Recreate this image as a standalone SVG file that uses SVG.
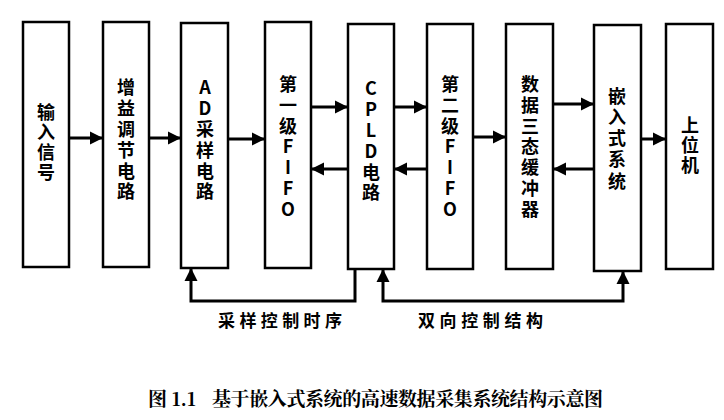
<svg xmlns="http://www.w3.org/2000/svg" width="724" height="420" viewBox="0 0 724 420">
<style>
.box{fill:#fff;stroke:#000;stroke-width:2.5}
.t{font-family:"Noto Sans CJK SC","Liberation Sans",sans-serif;font-size:18px;font-weight:bold;fill:#000;text-anchor:middle;writing-mode:vertical-rl;text-orientation:upright;letter-spacing:2.8px}
.c{stroke:#000;stroke-width:3;fill:none}
.lbl{font-family:"Noto Sans CJK SC",sans-serif;font-size:17px;font-weight:bold;fill:#000}
.cap{font-family:"Noto Serif CJK SC","Noto Sans CJK SC",serif;font-size:19px;font-weight:bold;fill:#000}
</style>
<defs>
<marker id="ah" markerUnits="userSpaceOnUse" markerWidth="15" markerHeight="15" refX="13" refY="7" orient="auto-start-reverse">
<path d="M0,0.5 L13,7 L0,13.5 z" fill="#000"/>
</marker>
</defs>
<rect width="724" height="420" fill="#fff"/>
<g id="n1"><rect class="box" x="23" y="22" width="46" height="245"/>
<text class="t" x="46" y="143" style="letter-spacing:2px">输入信号</text></g>
<g id="n2"><rect class="box" x="103" y="22" width="46" height="245"/>
<text class="t" x="126" y="141">增益调节电路</text></g>
<g id="n3"><rect class="box" x="181" y="23" width="47" height="245"/>
<text class="t" x="205" y="141">AD采样电路</text></g>
<g id="n4"><rect class="box" x="265" y="22" width="46" height="246"/>
<text class="t" x="288" y="148">第一级FIFO</text></g>
<g id="n5"><rect class="box" x="348" y="24" width="46" height="245"/>
<text class="t" x="371" y="142">CPLD电路</text></g>
<g id="n6"><rect class="box" x="427" y="24" width="46" height="245"/>
<text class="t" x="450" y="148">第二级FIFO</text></g>
<g id="n7"><rect class="box" x="506" y="24" width="47" height="245"/>
<text class="t" x="530" y="148">数据三态缓冲器</text></g>
<g id="n8"><rect class="box" x="594" y="25" width="47" height="246"/>
<text class="t" x="617" y="140" style="letter-spacing:3.2px">嵌入式系统</text></g>
<g id="n9"><rect class="box" x="666" y="24" width="47" height="245"/>
<text class="t" x="690" y="146" style="letter-spacing:2px">上位机</text></g>
<g id="connectors">
<line class="c" x1="69" y1="138" x2="103" y2="138" marker-end="url(#ah)"/>
<line class="c" x1="149" y1="138" x2="181" y2="138" marker-end="url(#ah)"/>
<line class="c" x1="228" y1="139" x2="265" y2="139" marker-end="url(#ah)"/>
<line class="c" x1="311" y1="107" x2="348" y2="107" marker-end="url(#ah)"/>
<line class="c" x1="348" y1="169" x2="311" y2="169" marker-end="url(#ah)"/>
<line class="c" x1="394" y1="107" x2="427" y2="107" marker-end="url(#ah)"/>
<line class="c" x1="427" y1="169" x2="394" y2="169" marker-end="url(#ah)"/>
<line class="c" x1="473" y1="137" x2="506" y2="137" marker-end="url(#ah)"/>
<line class="c" x1="553" y1="104" x2="594" y2="104" marker-end="url(#ah)"/>
<line class="c" x1="594" y1="169" x2="553" y2="169" marker-end="url(#ah)"/>
<line class="c" x1="641" y1="139" x2="666" y2="139" marker-end="url(#ah)"/>
<path class="c" d="M355,269 V301 H191 V268" marker-end="url(#ah)"/>
<path class="c" d="M383,269 V301 H623 V271" marker-start="url(#ah)" marker-end="url(#ah)"/>
</g>
<text class="lbl" x="218" y="327" textLength="124" lengthAdjust="spacing">采样控制时序</text>
<text class="lbl" x="418" y="327" textLength="125" lengthAdjust="spacing">双向控制结构</text>
<text class="cap" x="148" y="406">图 1.1</text>
<text class="cap" x="212" y="406" textLength="391" lengthAdjust="spacing">基于嵌入式系统的高速数据采集系统结构示意图</text>
</svg>
